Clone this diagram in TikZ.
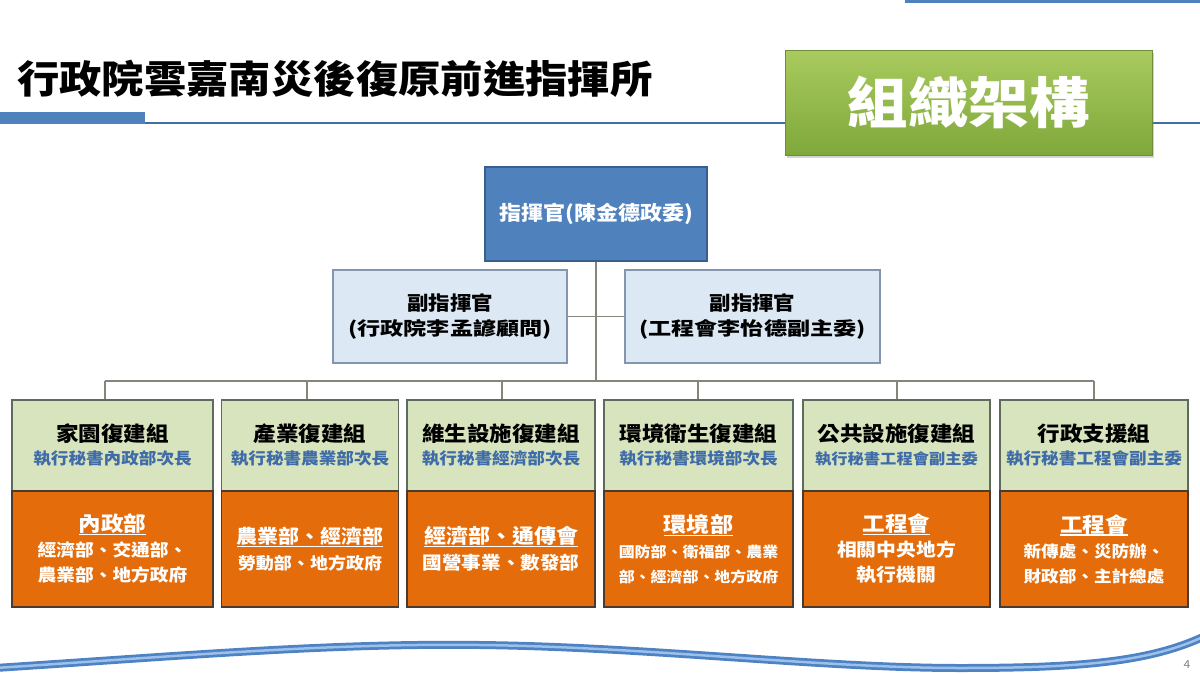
\documentclass[tikz,border=0pt]{standalone}
\usepackage{fontspec}
\setmainfont{Noto Sans CJK TC}[FakeStretch=1.1]
\newfontfamily\widefont{Noto Sans CJK TC}[FakeStretch=1.25]
\usetikzlibrary{shadows}
\definecolor{cmdblue}{HTML}{4F81BD}
\definecolor{cmdborder}{HTML}{3A5F8E}
\definecolor{depfill}{HTML}{DCE8F3}
\definecolor{depborder}{HTML}{8496AE}
\definecolor{grpgreen}{HTML}{D7E4BD}
\definecolor{grpborder}{HTML}{5E6B5E}
\definecolor{orfill}{HTML}{E46C0A}
\definecolor{orborder}{HTML}{4A3A30}
\definecolor{subblue}{HTML}{3F6CA8}
\definecolor{linkgray}{HTML}{85857A}
\definecolor{titlegreenA}{HTML}{A9CA5E}
\definecolor{titlegreenB}{HTML}{7FA83A}
\definecolor{titlegreenD}{HTML}{6E8C3A}
\definecolor{waveout}{HTML}{4D82C4}
\definecolor{wavein}{HTML}{9CC0EA}
\newcommand\myfs[2]{\fontsize{#1}{#2}\selectfont}
\newcommand\myul[1]{\setbox0\hbox{#1}\rlap{\color{white}\rule[-3.5pt]{\wd0}{1.3pt}}\box0}
\begin{document}
\begin{tikzpicture}[x=1pt,y=-1pt,
  box/.style={draw, line width=1.3pt, inner sep=0pt, align=center},
  cmdbox/.style={box, fill=cmdblue, draw=cmdborder, text=white},
  depbox/.style={box, fill=depfill, draw=depborder, text=black},
  grpbox/.style={box, fill=grpgreen, draw=grpborder, text=black},
  orbox/.style={box, fill=orfill, draw=orborder, text=white},
  link/.style={draw=linkgray, line width=1.8pt}]
\useasboundingbox (0,0) rectangle (1200,675);
% header
\draw[line width=3pt, cmdblue] (905,1) -- (1200,1);
\draw[line width=1.6pt, cmdblue!85!black] (0,123) -- (1200,123);
\fill[cmdblue] (0,112) rectangle (145,124);
\node[anchor=west, inner sep=0pt, font=\bfseries\myfs{38.5}{40}] (title) at (17,79) {行政院雲嘉南災後復原前進指揮所};
\node[draw=titlegreenD, line width=1pt, top color=titlegreenA, bottom color=titlegreenB,
  minimum width=367, minimum height=105, inner sep=0pt, text=white,
  font=\bfseries\myfs{55}{58}, drop shadow={shadow xshift=2pt, shadow yshift=-3pt, opacity=0.35}] (tag) at (968.5,102.5) {組織架構};
% coordinates for connectors
\coordinate (hub) at (596,381);
\coordinate (b1) at (105,381);
\coordinate (b2) at (307,381);
\coordinate (b3) at (502,381);
\coordinate (b4) at (698,381);
\coordinate (b5) at (897,381);
\coordinate (b6) at (1094,381);
% boxes
\node[cmdbox, minimum width=222, minimum height=94, font=\bfseries\myfs{20}{24}] (cmd) at (596,214) {指揮官(陳金德政委)};
\node[depbox, minimum width=234, minimum height=93, font=\bfseries\myfs{19.5}{25}] (dl) at (450,316.5) {副指揮官\\{\widefont\bfseries\myfs{18.5}{25}(行政院李孟諺顧問)}};
\node[depbox, minimum width=255, minimum height=93, font=\bfseries\myfs{19.5}{25}] (dr) at (752.5,316.5) {副指揮官\\{\widefont\bfseries\myfs{18.5}{25}(工程會李怡德副主委)}};
% connectors
\path[link] (cmd.south) -- (hub);
\path[link] (dl.east) -- (dr.west);
\path[link] (b1) -- (b6);
% groups top
\node[grpbox, minimum width=201, minimum height=91, font=\bfseries\myfs{16}{23}] (g1) at (112.5,445.5) {{\myfs{20.5}{23}家園復建組}\\{\color{subblue}執行秘書內政部次長}};
\node[grpbox, minimum width=177, minimum height=91, font=\bfseries\myfs{16}{23}] (g2) at (310,445.5) {{\myfs{20.5}{23}產業復建組}\\{\color{subblue}執行秘書農業部次長}};
\node[grpbox, minimum width=188, minimum height=91, font=\bfseries\myfs{16}{23}] (g3) at (501,445.5) {{\myfs{20.5}{23}維生設施復建組}\\{\color{subblue}執行秘書經濟部次長}};
\node[grpbox, minimum width=189, minimum height=91, font=\bfseries\myfs{16}{23}] (g4) at (698.5,445.5) {{\myfs{20.5}{23}環境衛生復建組}\\{\color{subblue}執行秘書環境部次長}};
\node[grpbox, minimum width=187, minimum height=91, font=\bfseries\myfs{14.8}{23}] (g5) at (896.5,445.5) {{\myfs{20.5}{23}公共設施復建組}\\{\color{subblue}執行秘書工程會副主委}};
\node[grpbox, minimum width=188, minimum height=91, font=\bfseries\myfs{16}{23}] (g6) at (1094,445.5) {{\myfs{20.5}{23}行政支援組}\\{\color{subblue}執行秘書工程會副主委}};
% group verticals
\path[link] (b1) -- (b1 |- g1.north);
\path[link] (b2) -- (b2 |- g2.north);
\path[link] (b3) -- (b3 |- g3.north);
\path[link] (b4) -- (b4 |- g4.north);
\path[link] (b5) -- (b5 |- g5.north);
\path[link] (b6) -- (b6 |- g6.north);
% groups bottom
\node[orbox, minimum width=201, minimum height=116, font=\bfseries\myfs{17}{25}] (o1) at (112.5,549) {{\myfs{20.5}{25}\myul{內政部}}\\經濟部、交通部、\\農業部、地方政府};
\node[orbox, minimum width=177, minimum height=116, font=\bfseries\myfs{16.4}{26}] (o2) at (310,549) {{\myfs{19}{26}\myul{農業部、經濟部}}\\勞動部、地方政府};
\node[orbox, minimum width=188, minimum height=116, font=\bfseries\myfs{17.8}{26}] (o3) at (501,549) {{\myfs{20}{26}\myul{經濟部、通傳會}}\\國營事業、數發部};
\node[orbox, minimum width=189, minimum height=116, font=\bfseries\myfs{14.5}{25}] (o4) at (698.5,549) {{\myfs{21}{25}\myul{環境部}}\\國防部、衛福部、農業\\部、經濟部、地方政府};
\node[orbox, minimum width=187, minimum height=116, font=\bfseries\myfs{18}{25}] (o5) at (896.5,549) {{\myfs{20.5}{25}\myul{工程會}}\\相關中央地方\\執行機關};
\node[orbox, minimum width=188, minimum height=116, font=\bfseries\myfs{16}{25}] (o6) at (1094,549) {{\myfs{20.5}{25}\myul{工程會}}\\新傳處、災防辦、\\財政部、主計總處};
% bottom wave
\draw[line width=8pt, waveout] (-5,668) .. controls (180,656) and (330,643) .. (480,645) .. controls (650,647) and (820,668) .. (960,668) .. controls (1080,668) and (1150,662) .. (1205,636);
\draw[line width=2.5pt, wavein] (-5,668) .. controls (180,656) and (330,643) .. (480,645) .. controls (650,647) and (820,668) .. (960,668) .. controls (1080,668) and (1150,662) .. (1205,636);
\node[text=gray, font=\myfs{11}{12}, inner sep=0pt] (pg) at (1187,665) {4};
\end{tikzpicture}
\end{document}
